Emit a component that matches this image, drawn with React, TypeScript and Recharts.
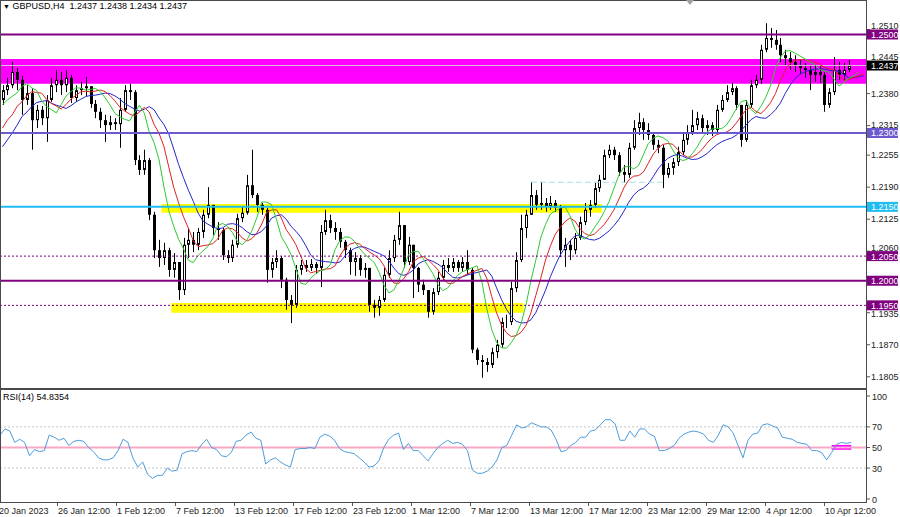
import React from "react";
import { ComposedChart, Bar, Line, XAxis, YAxis, ReferenceLine, ReferenceArea } from "recharts";

const FONT = '"Liberation Sans Narrow", "Liberation Sans", Arial, sans-serif';

// GBPUSD, grouped into 8-hour candles (open = previous close)
const firstOpen = 1.2367;
const closes = [
  1.2387, 1.2397, 1.2424, 1.2408, 1.2367, 1.2381, 1.2326, 1.2347, 1.2330, 1.2367,
  1.2397, 1.2408, 1.2397, 1.2412, 1.2371, 1.2387, 1.2391, 1.2395, 1.2359, 1.2343,
  1.2326, 1.2316, 1.2322, 1.2318, 1.2347, 1.2387, 1.2383, 1.2245, 1.2225, 1.2245,
  1.2134, 1.2062, 1.2046, 1.2062, 1.2022, 1.2038, 1.1981, 1.2073, 1.2083, 1.2073,
  1.2099, 1.2134, 1.2154, 1.2107, 1.2103, 1.2052, 1.2046, 1.2073, 1.2127, 1.2138,
  1.2194, 1.2174, 1.2154, 1.2144, 1.2022, 1.2038, 1.2046, 1.2002, 1.1961, 1.1951,
  1.2022, 1.2032, 1.2026, 1.2034, 1.2026, 1.2099, 1.2123, 1.2107, 1.2099, 1.2079,
  1.2062, 1.2038, 1.2046, 1.2022, 1.2026, 1.1951, 1.1945, 1.1961, 1.2012, 1.2046,
  1.2083, 1.2113, 1.2038, 1.2073, 1.2026, 1.1992, 1.1981, 1.1937, 1.1977, 1.2006,
  1.2032, 1.2026, 1.2038, 1.2026, 1.2038, 1.2022, 1.1860, 1.1839, 1.1835, 1.1829,
  1.1855, 1.1870, 1.1916, 1.1916, 1.1985, 1.2042, 1.2107, 1.2134, 1.2174, 1.2154,
  1.2158, 1.2150, 1.2158, 1.2148, 1.2062, 1.2073, 1.2062, 1.2087, 1.2119, 1.2144,
  1.2154, 1.2188, 1.2205, 1.2255, 1.2266, 1.2255, 1.2221, 1.2215, 1.2270, 1.2310,
  1.2322, 1.2306, 1.2296, 1.2276, 1.2270, 1.2215, 1.2229, 1.2241, 1.2261, 1.2286,
  1.2302, 1.2316, 1.2330, 1.2310, 1.2316, 1.2306, 1.2347, 1.2367, 1.2383, 1.2391,
  1.2357, 1.2286, 1.2357, 1.2397, 1.2408, 1.2469, 1.2493, 1.2489, 1.2479, 1.2458,
  1.2452, 1.2444, 1.2438, 1.2432, 1.2428, 1.2418, 1.2424, 1.2418, 1.2357, 1.2383,
  1.2428, 1.2418, 1.2428, 1.2437,
];
const highs = [
  1.2397, 1.2412, 1.2444, 1.2432, 1.2416, 1.2397, 1.2391, 1.2357, 1.2355, 1.2377,
  1.2412, 1.2428, 1.2424, 1.2428, 1.2418, 1.2397, 1.2404, 1.2414, 1.2395, 1.2367,
  1.2351, 1.2337, 1.2335, 1.2330, 1.2371, 1.2397, 1.2400, 1.2387, 1.2255, 1.2266,
  1.2249, 1.2140, 1.2083, 1.2077, 1.2067, 1.2056, 1.2038, 1.2087, 1.2107, 1.2099,
  1.2107, 1.2144, 1.2190, 1.2154, 1.2119, 1.2107, 1.2062, 1.2083, 1.2136, 1.2150,
  1.2215, 1.2266, 1.2178, 1.2158, 1.2148, 1.2046, 1.2062, 1.2050, 1.2006, 1.1971,
  1.2032, 1.2042, 1.2042, 1.2044, 1.2038, 1.2113, 1.2144, 1.2134, 1.2119, 1.2107,
  1.2083, 1.2067, 1.2058, 1.2052, 1.2036, 1.2026, 1.1961, 1.1969, 1.2026, 1.2062,
  1.2093, 1.2140, 1.2113, 1.2089, 1.2073, 1.2028, 1.2002, 1.1981, 1.1985, 1.2018,
  1.2042, 1.2046, 1.2046, 1.2042, 1.2048, 1.2062, 1.2026, 1.1864, 1.1849, 1.1843,
  1.1864, 1.1880, 1.1925, 1.1931, 1.1998, 1.2058, 1.2134, 1.2144, 1.2201, 1.2184,
  1.2201, 1.2168, 1.2172, 1.2164, 1.2154, 1.2087, 1.2083, 1.2097, 1.2130, 1.2158,
  1.2164, 1.2199, 1.2215, 1.2266, 1.2276, 1.2272, 1.2261, 1.2235, 1.2280, 1.2326,
  1.2341, 1.2330, 1.2320, 1.2302, 1.2286, 1.2276, 1.2239, 1.2249, 1.2272, 1.2300,
  1.2316, 1.2347, 1.2343, 1.2337, 1.2326, 1.2322, 1.2357, 1.2377, 1.2397, 1.2402,
  1.2395, 1.2357, 1.2367, 1.2408, 1.2418, 1.2479, 1.2523, 1.2513, 1.2509, 1.2493,
  1.2469, 1.2464, 1.2458, 1.2448, 1.2442, 1.2438, 1.2436, 1.2436, 1.2424, 1.2391,
  1.2454, 1.2444, 1.2442, 1.2448,
];
const lows = [
  1.2357, 1.2377, 1.2391, 1.2387, 1.2337, 1.2357, 1.2266, 1.2310, 1.2316, 1.2282,
  1.2363, 1.2383, 1.2377, 1.2383, 1.2361, 1.2363, 1.2377, 1.2375, 1.2351, 1.2330,
  1.2310, 1.2282, 1.2306, 1.2306, 1.2270, 1.2343, 1.2367, 1.2235, 1.2215, 1.2215,
  1.2123, 1.2046, 1.2028, 1.2032, 1.2008, 1.2006, 1.1961, 1.1971, 1.2046, 1.2058,
  1.2062, 1.2087, 1.2127, 1.2093, 1.2083, 1.2042, 1.2036, 1.2038, 1.2067, 1.2119,
  1.2134, 1.2168, 1.2140, 1.2134, 1.1996, 1.2006, 1.2026, 1.1985, 1.1941, 1.1914,
  1.1945, 1.2012, 1.2018, 1.2020, 1.2014, 1.1987, 1.2093, 1.2097, 1.2083, 1.2067,
  1.2046, 1.2012, 1.2010, 1.2010, 1.2006, 1.1937, 1.1925, 1.1929, 1.1957, 1.2006,
  1.2038, 1.2073, 1.2026, 1.2032, 1.1965, 1.1977, 1.1971, 1.1925, 1.1931, 1.1971,
  1.2002, 1.2018, 1.2018, 1.2018, 1.2018, 1.2012, 1.1853, 1.1829, 1.1803, 1.1815,
  1.1823, 1.1843, 1.1864, 1.1904, 1.1910, 1.1977, 1.2038, 1.2087, 1.2134, 1.2144,
  1.2144, 1.2140, 1.2144, 1.2140, 1.2048, 1.2028, 1.2042, 1.2054, 1.2083, 1.2113,
  1.2130, 1.2148, 1.2180, 1.2205, 1.2249, 1.2245, 1.2213, 1.2199, 1.2209, 1.2266,
  1.2296, 1.2286, 1.2286, 1.2266, 1.2259, 1.2188, 1.2209, 1.2215, 1.2233, 1.2255,
  1.2276, 1.2296, 1.2306, 1.2300, 1.2296, 1.2294, 1.2302, 1.2343, 1.2363, 1.2377,
  1.2347, 1.2272, 1.2282, 1.2351, 1.2391, 1.2400, 1.2464, 1.2473, 1.2469, 1.2444,
  1.2438, 1.2428, 1.2424, 1.2420, 1.2412, 1.2387, 1.2404, 1.2402, 1.2343, 1.2351,
  1.2377, 1.2408, 1.2408, 1.2424,
];

// RSI(14), one reading per candle
const rsiValues = [
  62, 68, 66, 55, 58, 55, 42, 48, 46, 47,
  62, 60, 57, 59, 52, 56, 57, 56, 50, 46,
  40, 38, 38, 40, 47, 58, 55, 40, 31, 36,
  24, 20, 23, 23, 30, 27, 28, 44, 46, 47,
  46, 53, 58, 50, 48, 42, 41, 45, 56, 57,
  62, 65, 59, 57, 34, 38, 40, 36, 33, 31,
  48, 49, 49, 50, 49, 60, 63, 61, 57, 49,
  46, 45, 44, 40, 36, 31, 32, 37, 50, 58,
  62, 64, 48, 54, 47, 47, 42, 37, 44, 50,
  54, 57, 54, 55, 53, 47, 28, 25, 25, 27,
  31, 38, 50, 52, 62, 72, 69, 70, 74, 72,
  70, 70, 67, 58, 46, 47, 52, 55, 60, 60,
  66, 67, 72, 77, 77, 73, 57, 57, 66, 60,
  68, 68, 63, 61, 47, 47, 49, 52, 59, 63,
  65, 66, 65, 63, 57, 55, 62, 72, 70, 64,
  52, 40, 57, 63, 64, 72, 73, 71, 69, 60,
  59, 58, 55, 54, 53, 47, 47, 45, 38, 45,
  53, 55, 54, 54.8354,
];

// alligator lines at the left edge, before the shifted averages start
const jawLead = [1.2272, 1.2286, 1.2300, 1.2316];
const teethLead = [1.2310, 1.2326, 1.2337];
const lipsLead = [1.2357, 1.2367];

const dateTicks = [0, 12, 24, 36, 48, 60, 72, 84, 96, 108, 120, 132, 144, 156, 168];
const dateLabels = [
  "20 Jan 2023", "26 Jan 12:00", "1 Feb 12:00", "7 Feb 12:00", "13 Feb 12:00",
  "17 Feb 12:00", "23 Feb 12:00", "1 Mar 12:00", "7 Mar 12:00", "13 Mar 12:00",
  "17 Mar 12:00", "23 Mar 12:00", "29 Mar 12:00", "4 Apr 12:00", "10 Apr 12:00",
];

const priceTicks = [1.2510, 1.2445, 1.2380, 1.2315, 1.2255, 1.2190, 1.2125, 1.2060, 1.1935, 1.1870, 1.1805];
const levelTags = [
  { value: 1.2500, color: "#800080" },
  { value: 1.2437, color: "#000000" },
  { value: 1.2300, color: "#6a5acd" },
  { value: 1.2150, color: "#1ebcf0" },
  { value: 1.2050, color: "#800080" },
  { value: 1.2000, color: "#800080" },
  { value: 1.1950, color: "#800080" },
];
const rsiTicks = [100, 70, 50, 30, 0];

const SLOTS = 177;
const PLOT_RIGHT = 866;
const PRICE_DOMAIN = [1.17822, 1.2568];
const PX_PER_PRICE = 387 / (PRICE_DOMAIN[1] - PRICE_DOMAIN[0]);

const smma = (src: number[], alpha: number, seed: number) => {
  let s = seed;
  return src.map((v) => (s = s + alpha * (v - s)));
};
const medians = highs.map((h, i) => (h + lows[i]) / 2);
const jawArr = smma(medians, 0.148, 1.2326);
const teethArr = smma(medians, 0.234, 1.2347);
const lipsArr = smma(medians, 0.36, 1.2373);
const shifted = (lead: number[], arr: number[], shift: number, j: number) =>
  j < shift ? lead[j] : arr[j - shift] ?? null;

const rows = Array.from({ length: SLOTS }, (_, j) => {
  const has = j < closes.length;
  const o = j === 0 ? firstOpen : closes[j - 1];
  return {
    idx: j,
    o: has ? o : null,
    h: has ? highs[j] : null,
    l: has ? lows[j] : null,
    c: has ? closes[j] : null,
    range: has ? [Math.min(lows[j], o, closes[j]), Math.max(highs[j], o, closes[j])] : null,
    jaw: shifted(jawLead, jawArr, 4, j),
    teeth: shifted(teethLead, teethArr, 3, j),
    lips: shifted(lipsLead, lipsArr, 2, j),
    rsi: has ? rsiValues[j] : null,
  };
});

function Candle(props: any) {
  const { x, y, width, height, payload } = props;
  if (!payload || payload.c == null) return null;
  const { o, h, l, c } = payload;
  const top = Math.min(y, y + height);
  const span = Math.abs(height);
  const hi = Math.max(h, o, c);
  const lo = Math.min(l, o, c);
  const toY = (p: number) => top + (hi === lo ? 0 : ((hi - p) / (hi - lo)) * span);
  const left = Math.round(x + width / 2) - 1;
  const bodyTop = toY(Math.max(o, c));
  const bodyH = Math.max(toY(Math.min(o, c)) - bodyTop, 1);
  return (
    <g>
      <line x1={left + 1.5} x2={left + 1.5} y1={top} y2={top + span} stroke="#000" strokeWidth={1} />
      {c >= o ? (
        <rect x={left + 0.5} y={bodyTop + 0.5} width={2} height={Math.max(bodyH - 1, 0)} fill="#fff" stroke="#000" strokeWidth={1} />
      ) : (
        <rect x={left} y={bodyTop} width={3} height={bodyH} fill="#000" />
      )}
    </g>
  );
}

// plain price labels sitting next to a coloured level tag get nudged clear of it
function nudge(v: number) {
  let shift = 0;
  levelTags.forEach((t) => {
    const dy = (t.value - v) * PX_PER_PRICE;
    if (dy < 0 && dy > -8.5) shift = Math.min(shift, -8.5 - dy);
    if (dy > 0 && dy < 8.5) shift = Math.max(shift, 8.5 - dy);
  });
  return shift;
}

function PriceTick(props: any) {
  const { y, payload } = props;
  const v = payload.value as number;
  const tag = levelTags.find((t) => Math.abs(t.value - v) < 1e-7);
  if (tag) {
    return (
      <g>
        <rect x={PLOT_RIGHT + 1} y={y - 5} width={31} height={10} fill={tag.color} />
        <text x={PLOT_RIGHT + 5} y={y + 3.5} fill="#fff" fontSize={9} fontFamily={FONT}>
          {v.toFixed(4)}
        </text>
      </g>
    );
  }
  const ty = y + nudge(v);
  return (
    <g>
      <line x1={PLOT_RIGHT + 1} x2={PLOT_RIGHT + 4} y1={y} y2={y} stroke="#555" />
      <text x={PLOT_RIGHT + 5} y={ty + 3.2} fill="#222" fontSize={9} fontFamily={FONT}>
        {v.toFixed(4)}
      </text>
    </g>
  );
}

function RsiTick(props: any) {
  const { y, payload } = props;
  return (
    <g>
      <line x1={PLOT_RIGHT + 1} x2={PLOT_RIGHT + 4} y1={y} y2={y} stroke="#555" />
      <text x={PLOT_RIGHT + 6} y={y + 3.5} fill="#222" fontSize={9} fontFamily={FONT}>
        {payload.value}
      </text>
    </g>
  );
}

function DateTick(props: any) {
  const { x, payload } = props;
  const k = dateTicks.indexOf(payload.value);
  const start = Math.round(x - PLOT_RIGHT / SLOTS / 2);
  return (
    <g>
      <line x1={start + 0.5} x2={start + 0.5} y1={114} y2={117} stroke="#555" />
      <text x={start + 1} y={124.5} fill="#222" fontSize={9} fontFamily={FONT}>
        {dateLabels[k]}
      </text>
    </g>
  );
}

const frame: React.CSSProperties = {
  position: "absolute",
  left: 0,
  width: 867,
  border: "1px solid #4a4a4a",
  boxSizing: "border-box",
  pointerEvents: "none",
};

export default function App() {
  return (
    <div style={{ position: "absolute", left: 0, top: 0, width: 900, height: 517, background: "#fff", overflow: "hidden", fontFamily: FONT }}>
      <div style={{ position: "absolute", left: 0, top: 0 }}>
        <ComposedChart width={900} height={389} data={rows} margin={{ top: 1, right: 0, bottom: 1, left: 0 }}>
          <XAxis dataKey="idx" type="category" hide />
          <YAxis
            orientation="right"
            width={34}
            type="number"
            domain={PRICE_DOMAIN}
            allowDataOverflow
            ticks={[...priceTicks, ...levelTags.map((t) => t.value)]}
            interval={0}
            tick={(p: any) => <PriceTick {...p} />}
            axisLine={false}
            tickLine={false}
          />
          <ReferenceArea y1={1.24} y2={1.245} fill="#ff00ff" fillOpacity={1} stroke="none" />
          <ReferenceArea x1={33} x2={122} y1={1.2138} y2={1.2156} fill="#ffff00" fillOpacity={1} stroke="none" />
          <ReferenceArea x1={35} x2={106} y1={1.1935} y2={1.1955} fill="#ffff00" fillOpacity={1} stroke="none" />
          <ReferenceLine y={1.2437} stroke="#d9c2d9" strokeWidth={1} />
          <Bar dataKey="range" barSize={3} isAnimationActive={false} shape={(p: any) => <Candle {...p} />} />
          <Line dataKey="jaw" stroke="#2424cc" strokeWidth={1} dot={false} isAnimationActive={false} />
          <Line dataKey="teeth" stroke="#dd2222" strokeWidth={1} dot={false} isAnimationActive={false} />
          <Line dataKey="lips" stroke="#2fc92f" strokeWidth={1} dot={false} isAnimationActive={false} />
          <ReferenceLine y={1.25} stroke="#800080" strokeWidth={2} />
          <ReferenceLine y={1.23} stroke="#6a5acd" strokeWidth={2} />
          <ReferenceLine y={1.215} stroke="#1ebcf0" strokeWidth={2} />
          <ReferenceLine y={1.205} stroke="#800080" strokeWidth={1} strokeDasharray="2 2" />
          <ReferenceLine y={1.2} stroke="#800080" strokeWidth={2} />
          <ReferenceLine y={1.195} stroke="#800080" strokeWidth={1} strokeDasharray="2 2" />
          <ReferenceLine
            segment={[{ x: 108, y: 1.22 }, { x: 135, y: 1.22 }]}
            stroke="#a6e0e0"
            strokeWidth={1}
            strokeDasharray="6 3"
          />
        </ComposedChart>
      </div>
      <div style={{ position: "absolute", left: 0, top: 389 }}>
        <ComposedChart width={900} height={128} data={rows} margin={{ top: 1, right: 0, bottom: 0, left: 0 }}>
          <XAxis
            dataKey="idx"
            type="category"
            height={14}
            ticks={dateTicks}
            interval={0}
            tick={(p: any) => <DateTick {...p} />}
            axisLine={false}
            tickLine={false}
          />
          <YAxis
            orientation="right"
            width={34}
            type="number"
            domain={[-3.88, 105.83]}
            allowDataOverflow
            ticks={rsiTicks}
            interval={0}
            tick={(p: any) => <RsiTick {...p} />}
            axisLine={false}
            tickLine={false}
          />
          <ReferenceLine y={70} stroke="#c4c4c4" strokeDasharray="2 2" />
          <ReferenceLine y={30} stroke="#c4c4c4" strokeDasharray="2 2" />
          <ReferenceLine y={50} stroke="#f7a8c4" strokeWidth={2} />
          <ReferenceArea x1={169} x2={173} y1={47.8} y2={52.5} fill="#ff00ff" fillOpacity={1} stroke="none" />
          <ReferenceLine segment={[{ x: 169, y: 50 }, { x: 173, y: 50 }]} stroke="#ffb8ff" strokeDasharray="3 2" />
          <Line dataKey="rsi" stroke="#4d9ddc" strokeWidth={1} dot={false} isAnimationActive={false} />
        </ComposedChart>
      </div>
      <div style={{ ...frame, top: 0, height: 389 }} />
      <div style={{ ...frame, top: 389, height: 114 }} />
      <div
        style={{
          position: "absolute",
          left: 686,
          top: 0,
          width: 0,
          height: 0,
          borderLeft: "4px solid transparent",
          borderRight: "4px solid transparent",
          borderTop: "5px solid #a0a0a0",
        }}
      />
      <div style={{ position: "absolute", left: 3, top: 0, fontSize: 9, lineHeight: "12px", color: "#000", whiteSpace: "pre" }}>
        <span style={{ fontSize: 7 }}>▼</span> GBPUSD,H4  1.2437 1.2438 1.2434 1.2437
      </div>
      <div style={{ position: "absolute", left: 3, top: 391, fontSize: 9, lineHeight: "12px", color: "#000", whiteSpace: "pre" }}>
        RSI(14) 54.8354
      </div>
    </div>
  );
}
